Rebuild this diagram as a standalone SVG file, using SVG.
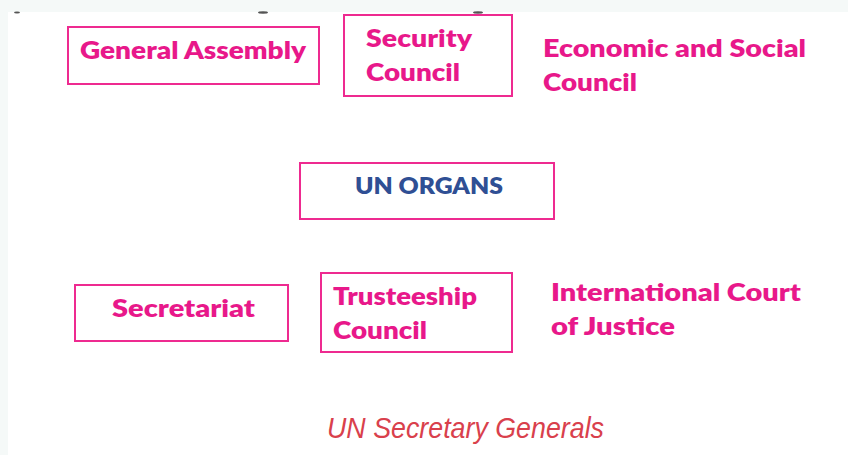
<svg xmlns="http://www.w3.org/2000/svg" width="848" height="455" viewBox="0 0 848 455">
  <style>
    .box { fill: #ffffff; stroke: #ee2a90; stroke-width: 2; }
    .lbl { font-family: Lato, "Open Sans", "Liberation Sans", sans-serif; font-weight: 800; font-size: 25px; fill: #e8188a; }
    .hub { font-family: Lato, "Open Sans", "Liberation Sans", sans-serif; font-weight: 800; font-size: 22px; fill: #2f4f94; }
    .cap { font-family: "Liberation Sans", Arial, sans-serif; font-style: italic; font-size: 29px; fill: #d9404c; }
    .nick { fill: #555555; }
  </style>

  <!-- page background with pale margins -->
  <rect x="0" y="0" width="848" height="455" fill="#f5f9f8"/>
  <rect x="8" y="12" width="840" height="443" fill="#ffffff"/>
  <!-- clipped marks along the top edge -->
  <ellipse class="nick" cx="17" cy="12.5" rx="3" ry="1"/>
  <ellipse class="nick" cx="263" cy="12.5" rx="5" ry="1.2"/>
  <ellipse class="nick" cx="478" cy="12.5" rx="5" ry="1.2"/>

  <g id="general-assembly">
    <rect class="box" x="68" y="27" width="251" height="57"/>
    <text class="lbl" x="80" y="59" textLength="226" lengthAdjust="spacingAndGlyphs">General Assembly</text>
  </g>

  <g id="security-council">
    <rect class="box" x="344" y="15" width="168" height="81"/>
    <text class="lbl" x="366" y="47" textLength="106" lengthAdjust="spacingAndGlyphs">Security</text>
    <text class="lbl" x="366" y="81" textLength="94" lengthAdjust="spacingAndGlyphs">Council</text>
  </g>

  <g id="economic-social-council">
    <text class="lbl" x="543" y="57" textLength="263" lengthAdjust="spacingAndGlyphs">Economic and Social</text>
    <text class="lbl" x="543" y="91" textLength="94" lengthAdjust="spacingAndGlyphs">Council</text>
  </g>

  <g id="un-organs">
    <rect class="box" x="300" y="163" width="254" height="56"/>
    <text class="hub" x="355" y="194" textLength="148" lengthAdjust="spacingAndGlyphs">UN ORGANS</text>
  </g>

  <g id="secretariat">
    <rect class="box" x="75" y="285" width="213" height="56"/>
    <text class="lbl" x="112" y="317" textLength="143" lengthAdjust="spacingAndGlyphs">Secretariat</text>
  </g>

  <g id="trusteeship-council">
    <rect class="box" x="321" y="273" width="191" height="79"/>
    <text class="lbl" x="333" y="305" textLength="144" lengthAdjust="spacingAndGlyphs">Trusteeship</text>
    <text class="lbl" x="333" y="339" textLength="94" lengthAdjust="spacingAndGlyphs">Council</text>
  </g>

  <g id="international-court">
    <text class="lbl" x="551" y="301" textLength="250" lengthAdjust="spacingAndGlyphs">International Court</text>
    <text class="lbl" x="551" y="335" textLength="124" lengthAdjust="spacingAndGlyphs">of Justice</text>
  </g>

  <g id="connectors"></g>

  <text class="cap" x="327" y="438" textLength="277" lengthAdjust="spacingAndGlyphs">UN Secretary Generals</text>
</svg>
